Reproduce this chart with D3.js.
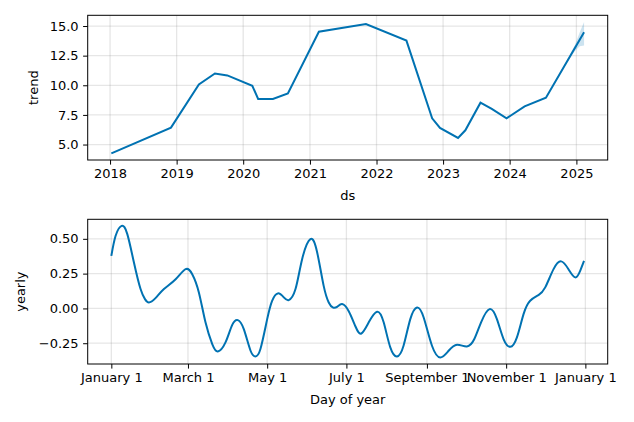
<!DOCTYPE html>
<html>
<head>
<meta charset="utf-8">
<script src="https://cdn.jsdelivr.net/npm/d3@7"></script>
<style>
  html, body { margin: 0; padding: 0; background: #fff; }
  svg { display: block; font-family: "DejaVu Sans", sans-serif; }
</style>
</head>
<body>
<svg id="chart" width="634" height="422"></svg>
<script>
// ---------- data ----------
const trendDates = ["2018-01-08","2018-12-01","2019-05-03","2019-07-30","2019-10-06","2020-02-20",
  "2020-03-23","2020-06-12","2020-09-02","2021-02-19","2021-11-04","2022-06-14","2022-11-02",
  "2022-12-15","2023-03-24","2023-05-03","2023-07-25","2023-09-25","2023-12-15","2024-03-23",
  "2024-07-18","2025-02-12"];
const trendValues = [4.25, 6.43, 10.07, 11.0, 10.83, 9.96,
  8.84, 8.84, 9.31, 14.52, 15.17, 13.77, 7.21,
  6.40, 5.56, 6.20, 8.53, 8.0, 7.21, 8.22,
  8.95, 14.47];

const bandDates = ["2024-07-18","2024-11-07","2024-12-24","2025-01-19","2025-02-12"];
const bandUpper = [8.95, 12.05, 13.40, 14.45, 15.35];
const bandLower = [8.95, 11.85, 12.90, 13.30, 13.35];

const trendXTicks = [2018, 2019, 2020, 2021, 2022, 2023, 2024, 2025];
const trendYTicks = [5.0, 7.5, 10.0, 12.5, 15.0];

const yearlyDays = [0, 3.3, 7.9, 12.3, 17.4, 22.5, 25.9, 28.9, 34, 40.5, 49.5, 57.2, 62.3, 67.4,
  72.5, 77.7, 82, 87.9, 93, 97.4, 102, 107.2, 111, 114.8, 120, 123.8, 128.2, 132.8, 136.6,
  141.8, 146.9, 153.3, 158.5, 163.5, 167.4, 170.5, 173.8, 177.7, 182.8, 188, 192.5, 198.2,
  204.6, 209.7, 214.8, 220, 225, 230.2, 235.4, 240.5, 246.9, 253.3, 259.7, 266.2, 273.8,
  279.5, 284.7, 291.2, 296.9, 302, 307.2, 312.3, 317.4, 322.5, 328.9, 334.1, 340.5, 346.4,
  352, 357.2, 361, 364];
const yearlyValues = [0.378, 0.522, 0.593, 0.534, 0.33, 0.139, 0.067, 0.043, 0.074, 0.139, 0.21, 0.282, 0.246, 0.115,
  -0.1, -0.256, -0.309, -0.244, -0.12, -0.084, -0.149, -0.304, -0.345, -0.292, -0.077, 0.055, 0.108, 0.079, 0.06,
  0.139, 0.354, 0.498, 0.402, 0.162, 0.043, 0.007, 0.011, 0.031, -0.02, -0.13, -0.18, -0.1,
  -0.024, -0.1, -0.28, -0.345, -0.268, -0.077, 0.007, -0.065, -0.268, -0.352, -0.304, -0.261, -0.273,
  -0.22, -0.1, -0.005, -0.077, -0.22, -0.276, -0.208, -0.041, 0.055, 0.096, 0.151, 0.282, 0.338,
  0.282, 0.223, 0.27, 0.342];

const yearlyTickDates = ["2017-01-01","2017-03-01","2017-05-01","2017-07-01","2017-09-01","2017-11-01","2018-01-01"];
const yearlyTickLabels = ["January 1","March 1","May 1","July 1","September 1","November 1","January 1"];
const yearlyYTicks = [-0.25, 0.00, 0.25, 0.50];

// ---------- helpers ----------
const svg = d3.select("#chart");
const BLUE = "#0072B2";
const FS = 13;
const parse = s => new Date(s + "T00:00:00Z");
const padExtent = (lo, hi) => { const r = hi - lo; return [lo - 0.05 * r, hi + 0.05 * r]; };
const padTime = (lo, hi) => { const r = hi - lo; return [new Date(+lo - 0.05 * r), new Date(+hi + 0.05 * r)]; };

function panel(cfg) {
  const { left, right, top, bottom } = cfg;
  const g = svg.append("g");
  const x = d3.scaleUtc().domain(cfg.xDomain).range([left, right]);
  const y = d3.scaleLinear().domain(cfg.yDomain).range([bottom, top]);

  // grid
  g.append("g").selectAll("line").data(cfg.xTicks).join("line")
    .attr("x1", d => x(d)).attr("x2", d => x(d)).attr("y1", top).attr("y2", bottom)
    .attr("stroke", "gray").attr("stroke-opacity", 0.2).attr("stroke-width", 1.3);
  g.append("g").selectAll("line").data(cfg.yTicks).join("line")
    .attr("y1", d => y(d)).attr("y2", d => y(d)).attr("x1", left).attr("x2", right)
    .attr("stroke", "gray").attr("stroke-opacity", 0.2).attr("stroke-width", 1.3);

  cfg.draw(g, x, y);

  // axes
  const xAxis = d3.axisBottom(x).tickValues(cfg.xTicks).tickFormat((d, i) => cfg.xFormat(d, i))
    .tickSizeOuter(0).tickSizeInner(4.6).tickPadding(4.5);
  const xg = g.append("g").attr("transform", `translate(0,${bottom})`).call(xAxis);
  const yAxis = d3.axisLeft(y).tickValues(cfg.yTicks).tickFormat(cfg.yFormat)
    .tickSizeOuter(0).tickSizeInner(4.6).tickPadding(4.5);
  const yg = g.append("g").attr("transform", `translate(${left},0)`).call(yAxis);
  [xg, yg].forEach(a => {
    a.select(".domain").remove();
    a.selectAll("text").attr("font-size", FS).attr("font-family", "DejaVu Sans").attr("fill", "#000");
    a.selectAll("line").attr("stroke", "#000").attr("stroke-width", 1);
  });

  // frame
  g.append("rect").attr("x", left).attr("y", top).attr("width", right - left).attr("height", bottom - top)
    .attr("fill", "none").attr("stroke", "#000").attr("stroke-width", 1);

  // labels
  g.append("text").attr("x", (left + right) / 2).attr("y", cfg.xLabelY)
    .attr("text-anchor", "middle").attr("font-size", FS).text(cfg.xLabel);
  g.append("text").attr("transform", `translate(${cfg.yLabelX},${(top + bottom) / 2}) rotate(-90)`)
    .attr("text-anchor", "middle").attr("font-size", FS).text(cfg.yLabel);
}

// ---------- trend panel ----------
const trend = trendDates.map((d, i) => ({ date: parse(d), v: trendValues[i] }));
const band = bandDates.map((d, i) => ({ date: parse(d), hi: bandUpper[i], lo: bandLower[i] }));
const tExt = d3.extent(trend, d => d.date);
const tyMin = Math.min(d3.min(trendValues), d3.min(bandLower));
const tyMax = Math.max(d3.max(trendValues), d3.max(bandUpper));

panel({
  left: 87.7, right: 607.7, top: 15.3, bottom: 160,
  xDomain: padTime(tExt[0], tExt[1]),
  yDomain: padExtent(tyMin, tyMax),
  xTicks: trendXTicks.map(yr => new Date(Date.UTC(yr, 0, 1))),
  xFormat: d => String(d.getUTCFullYear()),
  yTicks: trendYTicks,
  yFormat: d3.format(".1f"),
  xLabel: "ds", xLabelY: 200,
  yLabel: "trend", yLabelX: 38,
  draw: (g, x, y) => {
    g.append("path").datum(band)
      .attr("d", d3.area().x(d => x(d.date)).y0(d => y(d.lo)).y1(d => y(d.hi)))
      .attr("fill", BLUE).attr("fill-opacity", 0.2);
    g.append("path").datum(trend)
      .attr("d", d3.line().x(d => x(d.date)).y(d => y(d.v)))
      .attr("fill", "none").attr("stroke", BLUE).attr("stroke-width", 2);
  }
});

// ---------- yearly panel ----------
const base = Date.UTC(2017, 0, 1);
const yearly = yearlyDays.map((d, i) => ({ date: new Date(base + d * 86400000), v: yearlyValues[i] }));
const yStart = new Date(base), yEnd = new Date(base + 364 * 86400000);

panel({
  left: 87.7, right: 607.7, top: 219.3, bottom: 364,
  xDomain: padTime(yStart, yEnd),
  yDomain: padExtent(d3.min(yearlyValues), d3.max(yearlyValues)),
  xTicks: yearlyTickDates.map(parse),
  xFormat: (d, i) => yearlyTickLabels[i],
  yTicks: yearlyYTicks,
  yFormat: d => d3.format(".2f")(d).replace("-", "\u2212"),
  xLabel: "Day of year", xLabelY: 404,
  yLabel: "yearly", yLabelX: 25,
  draw: (g, x, y) => {
    g.append("path").datum(yearly)
      .attr("d", d3.line().x(d => x(d.date)).y(d => y(d.v)).curve(d3.curveNatural))
      .attr("fill", "none").attr("stroke", BLUE).attr("stroke-width", 2);
  }
});
</script>
</body>
</html>
